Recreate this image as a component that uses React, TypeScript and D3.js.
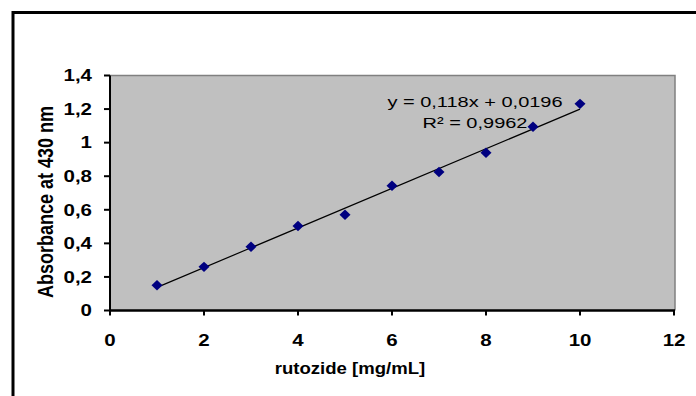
import * as d3 from "d3";

const concentrations = [1, 2, 3, 4, 5, 6, 7, 8, 9, 10];
const absorbances = [0.15, 0.26, 0.38, 0.503, 0.57, 0.743, 0.825, 0.94, 1.095, 1.231];
const xTicks = [0, 2, 4, 6, 8, 10, 12];
const yTicks = [0, 0.2, 0.4, 0.6, 0.8, 1, 1.2, 1.4];
const slope = 0.118;
const intercept = 0.0196;
const equationLines = ["y = 0,118x + 0,0196", "R\u00b2 = 0,9962"];

const W = 696;
const H = 396;
const plot = { left: 110, top: 75.5, right: 675, bottom: 310.5 };
const font = "'Liberation Sans', Arial, sans-serif";
// the original picture is stretched horizontally, so text is too
const SX = 1.28;

const fmt = (v: number) => String(+v.toFixed(1)).replace(".", ",");

// diamond marker, slightly wider than tall like the original
const diamondPath = (hw: number, hh: number) =>
  `M0,${-hh} L${hw},0 L0,${hh} L${-hw},0 Z`;

function SText(props: {
  x: number;
  y: number;
  anchor?: string;
  size: number;
  sx?: number;
  bold?: boolean;
  dy?: string;
  children: any;
}) {
  const { x, y, anchor = "start", size, sx = SX, bold, dy, children } = props;
  return (
    <text
      transform={`translate(${x},${y}) scale(${sx},1)`}
      dy={dy}
      textAnchor={anchor}
      fontFamily={font}
      fontWeight={bold ? "bold" : "normal"}
      fontSize={size}
      fill="#000"
    >
      {children}
    </text>
  );
}

export default function App() {
  const x = d3.scaleLinear().domain([0, 12]).range([plot.left, plot.right - 1]);
  const y = d3.scaleLinear().domain([0, 1.4]).range([plot.bottom, plot.top]);

  const trend = d3
    .line<number>()
    .x(d => x(d))
    .y(d => y(slope * d + intercept));

  const diamond = diamondPath(5.5, 5.2);

  return (
    <svg
      width={W}
      height={H}
      style={{ position: "absolute", left: 0, top: 0, background: "#fff" }}
    >
      {/* outer frame (left + top visible) */}
      <path d={`M13,${H} L13,12.5 L${W},12.5`} fill="none" stroke="#000" strokeWidth={3} />

      {/* plot area */}
      <rect
        x={plot.left}
        y={plot.top}
        width={plot.right - plot.left}
        height={plot.bottom - plot.top}
        fill="#c0c0c0"
      />
      <path
        d={`M${plot.left},${plot.top} L${plot.right},${plot.top} L${plot.right},${plot.bottom}`}
        fill="none"
        stroke="#808080"
        strokeWidth={1.5}
      />

      {/* y axis */}
      <line x1={plot.left} x2={plot.left} y1={plot.top} y2={plot.bottom} stroke="#000" strokeWidth={2} />
      {yTicks.map(t => (
        <g key={`y${t}`}>
          <line x1={plot.left - 6} x2={plot.left} y1={y(t)} y2={y(t)} stroke="#000" strokeWidth={2} />
          <SText x={92} y={y(t)} dy="0.36em" anchor="end" size={16} bold>
            {fmt(t)}
          </SText>
        </g>
      ))}

      {/* x axis */}
      <line x1={plot.left - 1} x2={plot.right} y1={plot.bottom} y2={plot.bottom} stroke="#000" strokeWidth={2.5} />
      {xTicks.map(t => (
        <g key={`x${t}`}>
          <line x1={x(t)} x2={x(t)} y1={plot.bottom} y2={plot.bottom + 5} stroke="#000" strokeWidth={2} />
          <SText x={x(t)} y={346} anchor="middle" size={16} bold>
            {t}
          </SText>
        </g>
      ))}

      {/* trendline */}
      <path
        d={trend([concentrations[0], concentrations[concentrations.length - 1]]) || ""}
        fill="none"
        stroke="#000"
        strokeWidth={1.2}
      />

      {/* points */}
      {concentrations.map((c, i) => (
        <path
          key={`p${c}`}
          d={diamond}
          transform={`translate(${x(c)},${y(absorbances[i])})`}
          fill="#000080"
        />
      ))}

      {/* equation */}
      {equationLines.map((s, i) => (
        <SText key={s} x={475} y={107 + i * 21} anchor="middle" size={15.5} sx={1.29}>
          {s}
        </SText>
      ))}

      {/* axis titles */}
      <SText x={350} y={374} anchor="middle" size={16} sx={1.16} bold>
        rutozide [mg/mL]
      </SText>
      <text
        transform={`translate(53,202) scale(1.25,1) rotate(-90)`}
        textAnchor="middle"
        fontFamily={font}
        fontWeight="bold"
        fontSize={18}
      >
        Absorbance at 430 nm
      </text>
    </svg>
  );
}
